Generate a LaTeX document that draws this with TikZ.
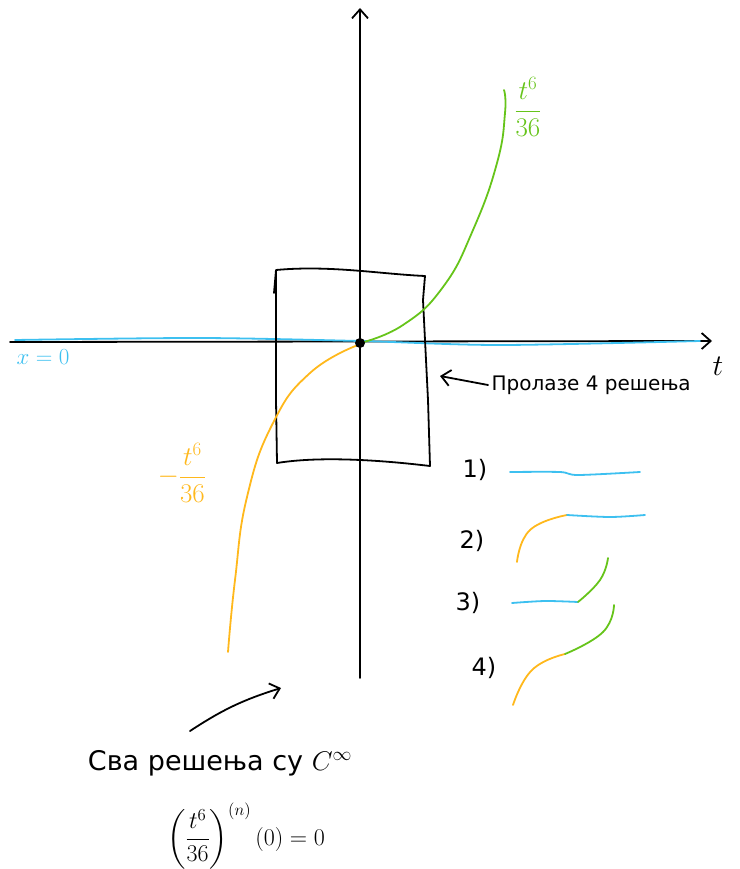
\RequirePackage{fix-cm}
\documentclass[tikz,border=0pt]{standalone}
\usepackage{amsmath}
\usepackage{fontspec}
\setmainfont{DejaVu Sans}
\usetikzlibrary{arrows.meta}
\definecolor{solBlue}{HTML}{3DC0F0}
\definecolor{solGreen}{HTML}{66C41A}
\definecolor{solOrange}{HTML}{FFB81C}

\begin{document}
\begin{tikzpicture}[x=1pt, y=-1pt, line cap=round, line join=round,
  pen/.style={line width=1.8pt},
  barb/.style={-{Straight Barb[length=9pt, width=16pt, line width=1.8pt]}},
  hand/.style={font=\fontsize{24}{28}\selectfont}]
  \useasboundingbox (0,0) rectangle (739,869);
  % Axes
  \coordinate (tL) at (10,342);
  \coordinate (tR) at (712,341);
  \coordinate (yB) at (360,678);
  \coordinate (yT) at (360,8);
  \draw[pen, barb] (tL) -- (tR);
  \draw[pen, barb] (yB) -- (yT);
  \node[font=\fontsize{30}{34}\selectfont] (tLab) at (718,366) {$t$};
  % Solution x = 0
  \draw[solBlue, pen] plot[smooth] coordinates {(15,340) (200,338) (360,341) (500,345) (700,341)};
  \node[solBlue, font=\fontsize{23}{26}\selectfont] (zLab) at (43,357) {$x=0$};
  % Box around the origin
  \draw[pen] (274,293) -- (276,270) .. controls (330,265) and (380,274) .. (425,276)
    -- (423,300) -- (428,400) -- (430,466) .. controls (380,460) and (320,456) .. (277,463)
    -- (276,400) -- (276,270);
  % Green solution
  \draw[solGreen, pen] plot[smooth, tension=0.8] coordinates {(360,343) (403,325)
    (443,287) (473,230) (497,163) (505,113) (504,90)};
  \node[solGreen, font=\fontsize{27}{30}\selectfont] (gLab) at (528,107) {$\displaystyle\frac{t^6}{36}$};
  % Orange solution
  \draw[solOrange, pen] plot[smooth, tension=0.8] coordinates {(358,345) (310,373)
    (273,423) (247,497) (235,580) (228,652)};
  \node[solOrange, font=\fontsize{27}{30}\selectfont] (oLab) at (182,473) {$\displaystyle-\frac{t^6}{36}$};
  % Origin
  \node[circle, fill, inner sep=0pt, minimum size=10pt] (O) at (360,343) {};
  % Four solutions through the box
  \node[font=\fontsize{20}{24}\selectfont, anchor=west] (pass) at (488,385) {Пролазе 4 решења};
  \coordinate (passTip) at (440,376);
  \draw[pen, barb] (pass.west) -- (passTip);
  % Legend
  \node[hand] (l1) at (475,470) {1)};
  \draw[solBlue, pen] plot[smooth] coordinates {(510,472) (560,472) (578,475) (640,472)};
  \node[hand] (l2) at (472,541) {2)};
  \draw[solOrange, pen] plot[smooth, tension=0.8] coordinates {(517,562) (530,530) (567,515)};
  \draw[solBlue, pen] plot[smooth] coordinates {(567,515) (610,517) (645,515)};
  \node[hand] (l3) at (468,603) {3)};
  \draw[solBlue, pen] plot[smooth] coordinates {(512,603) (545,601) (578,602)};
  \draw[solGreen, pen] plot[smooth, tension=0.8] coordinates {(578,602) (600,580) (608,558)};
  \node[hand] (l4) at (484,668) {4)};
  \draw[solOrange, pen] plot[smooth, tension=0.8] coordinates {(513,705) (532,670) (565,654)};
  \draw[solGreen, pen] plot[smooth, tension=0.8] coordinates {(565,654) (603,632) (614,605)};
  % Smoothness note
  \coordinate (aS) at (190,731);
  \coordinate (aE) at (281,688);
  \draw[pen, barb] (aS) to[bend left=8] (aE);
  \node[font=\fontsize{27}{32}\selectfont] (all) at (220,763) {Сва решења су $C^\infty$};
  \node[font=\fontsize{24}{28}\selectfont] (deriv) at (246,836) {$\left(\dfrac{t^6}{36}\right)^{(n)}(0)=0$};
\end{tikzpicture}
\end{document}
